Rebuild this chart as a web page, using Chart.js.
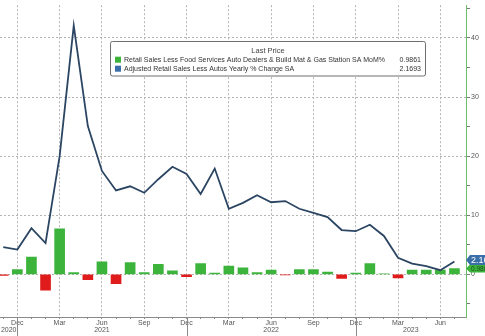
<!DOCTYPE html>
<html>
<head>
<meta charset="utf-8">
<script src="https://cdn.jsdelivr.net/npm/chart.js@4.4.0/dist/chart.umd.min.js"></script>
<style>
  html, body { margin: 0; padding: 0; background: #fff; }
  #wrap { width: 485px; height: 336px; position: relative; }
</style>
</head>
<body>
<div id="wrap"><canvas id="retailChart"></canvas></div>
<script>
'use strict';

// Monthly observations, Nov 2020 .. Jul 2023
const MONTHS = [
  'Nov', 'Dec',
  'Jan', 'Feb', 'Mar', 'Apr', 'May', 'Jun', 'Jul', 'Aug', 'Sep', 'Oct', 'Nov', 'Dec',
  'Jan', 'Feb', 'Mar', 'Apr', 'May', 'Jun', 'Jul', 'Aug', 'Sep', 'Oct', 'Nov', 'Dec',
  'Jan', 'Feb', 'Mar', 'Apr', 'May', 'Jun', 'Jul',
];
const YEARS = [
  2020, 2020,
  2021, 2021, 2021, 2021, 2021, 2021, 2021, 2021, 2021, 2021, 2021, 2021,
  2022, 2022, 2022, 2022, 2022, 2022, 2022, 2022, 2022, 2022, 2022, 2022,
  2023, 2023, 2023, 2023, 2023, 2023, 2023,
];

// Control group MoM % (bars)
const CONTROL_MOM = [
  -0.2, 0.8,
  2.9, -2.7, 7.7, 0.3, -0.9, 2.1, -1.6, 2.0, 0.3, 1.7, 0.6, -0.4,
  1.8, 0.2, 1.4, 1.1, 0.3, 0.7, -0.1, 0.8, 0.8, 0.4, -0.7, 0.2,
  1.8, 0.1, -0.6, 0.7, 0.7, 0.7, 0.9861,
];

// Adjusted retail sales less autos, YoY % (line)
const ADJ_YOY = [
  4.6, 4.2,
  7.8, 5.3, 20.0, 42.1, 25.1, 17.5, 14.2, 14.9, 13.8, 16.1, 18.2, 17.0,
  13.6, 17.9, 11.1, 12.1, 13.4, 12.2, 12.4, 11.1, 10.4, 9.7, 7.5, 7.3,
  8.4, 6.5, 2.8, 1.8, 1.4, 0.7, 2.1693,
];

const Y_LABELS = [0, 10, 20, 30, 40];
const QUARTER_MONTHS = ['Dec', 'Mar', 'Jun', 'Sep'];

const SERIES_NAMES = [
  'Retail Sales Less Food Services Auto Dealers & Build Mat & Gas Station SA MoM%',
  'Adjusted Retail Sales Less Autos Yearly % Change SA',
];

const COLORS = {
  up:     '#3cb43c',
  down:   '#e01b1b',
  line:   '#2b4563',
  tag:    '#3a6ea8',
  grid:   '#b4b4b4',
  axisY:  '#6cbc6c',
  axisX:  '#8a8a8a',
  text:   '#555555',
};

const FONT = "'Liberation Sans', Arial, sans-serif";

const isQuarter = i => QUARTER_MONTHS.includes(MONTHS[i]);

// year row under the month labels, split at each December
const yearAxisPlugin = {
  id: 'yearAxis',
  afterDraw(chart) {
    const { ctx, scales: { x }, chartArea } = chart;
    const bottom = chart.height;
    const breaks = MONTHS.map((m, i) => i).filter(i => MONTHS[i] === 'Dec');
    ctx.save();
    ctx.strokeStyle = COLORS.axisX;
    ctx.lineWidth = 1;
    breaks.forEach(i => {
      const px = Math.round(x.getPixelForValue(i)) + 0.5;
      ctx.beginPath();
      ctx.moveTo(px, chartArea.bottom);
      ctx.lineTo(px, bottom);
      ctx.stroke();
    });

    ctx.font = `7px ${FONT}`;
    ctx.fillStyle = COLORS.text;
    ctx.textBaseline = 'middle';
    ctx.textAlign = 'center';
    const edges = [x.min, ...breaks, x.max];
    for (let k = 0; k < edges.length - 1; k++) {
      const a = x.getPixelForValue(edges[k]);
      const b = x.getPixelForValue(edges[k + 1]);
      const year = String(k === 0 ? YEARS[0] : YEARS[Math.min(breaks[k - 1] + 1, YEARS.length - 1)]);
      const w = ctx.measureText(year).width;
      let cx = (a + b) / 2;
      // partial first year: sit just left of its separator, cut by the edge
      if (w > b - a) cx = b - 7 - w / 2;
      ctx.fillText(year, cx, 330);
    }
    ctx.restore();
  },
};

// "Last Price" box with series names and latest values
const legendBoxPlugin = {
  id: 'legendBox',
  afterDraw(chart) {
    const { ctx } = chart;
    const bx = 110.5, by = 41.5, bw = 315, bh = 34.5;
    ctx.save();
    ctx.fillStyle = '#ffffff';
    ctx.strokeStyle = '#6e6e6e';
    ctx.lineWidth = 1;
    ctx.beginPath();
    if (ctx.roundRect) ctx.roundRect(bx, by, bw, bh, 2); else ctx.rect(bx, by, bw, bh);
    ctx.fill();
    ctx.stroke();

    ctx.fillStyle = '#444';
    ctx.font = `7.5px ${FONT}`;
    ctx.textBaseline = 'middle';
    ctx.textAlign = 'center';
    ctx.fillText('Last Price', bx + bw / 2, 50.5);

    ctx.font = `7px ${FONT}`;
    const rows = [
      { color: COLORS.up, name: SERIES_NAMES[0], value: CONTROL_MOM[CONTROL_MOM.length - 1] },
      { color: COLORS.tag, name: SERIES_NAMES[1], value: ADJ_YOY[ADJ_YOY.length - 1] },
    ];
    rows.forEach((r, i) => {
      const ry = 59.7 + i * 9;
      ctx.fillStyle = r.color;
      ctx.fillRect(115, ry - 3, 6, 6);
      ctx.fillStyle = '#333';
      ctx.textAlign = 'left';
      ctx.fillText(r.name, 124, ry);
      ctx.textAlign = 'right';
      ctx.fillText(r.value.toFixed(4), 421, ry);
    });
    ctx.restore();
  },
};

// value tags on the right axis for the last point of each series
const lastValueTagPlugin = {
  id: 'lastValueTags',
  afterDraw(chart) {
    const { ctx, scales: { y }, chartArea } = chart;
    const x0 = chartArea.right;
    const tags = [
      { value: CONTROL_MOM[CONTROL_MOM.length - 1], fill: COLORS.up, text: '#1d4d1d', size: 6.5, h: 8, shift: 0 },
      { value: ADJ_YOY[ADJ_YOY.length - 1], fill: COLORS.tag, text: '#ffffff', size: 9, h: 10, shift: -1.5 },
    ];
    ctx.save();
    tags.forEach(t => {
      const cy = y.getPixelForValue(t.value) + t.shift;
      ctx.fillStyle = t.fill;
      ctx.beginPath();
      ctx.moveTo(x0, cy);
      ctx.lineTo(x0 + 4, cy - t.h / 2);
      ctx.lineTo(chart.width + 2, cy - t.h / 2);
      ctx.lineTo(chart.width + 2, cy + t.h / 2);
      ctx.lineTo(x0 + 4, cy + t.h / 2);
      ctx.closePath();
      ctx.fill();
      ctx.fillStyle = t.text;
      ctx.font = `${t.size}px ${FONT}`;
      ctx.textAlign = 'left';
      ctx.textBaseline = 'middle';
      ctx.fillText(t.value.toFixed(4), x0 + 5, cy + 0.5);
    });
    ctx.restore();
  },
};

const ctx = document.getElementById('retailChart');

new Chart(ctx, {
  type: 'bar',
  data: {
    datasets: [
      {
        type: 'line',
        label: SERIES_NAMES[1],
        data: ADJ_YOY.map((v, i) => ({ x: i, y: v })),
        borderColor: COLORS.line,
        borderWidth: 1.8,
        pointRadius: 0,
        tension: 0,
        order: 0,
      },
      {
        type: 'bar',
        label: SERIES_NAMES[0],
        data: CONTROL_MOM.map((v, i) => ({ x: i, y: v })),
        backgroundColor: c => (c.parsed && c.parsed.y < 0 ? COLORS.down : COLORS.up),
        barThickness: 10,
        order: 1,
      },
    ],
  },
  options: {
    responsive: true,
    maintainAspectRatio: false,
    animation: false,
    devicePixelRatio: 1,
    layout: { padding: 0 },
    plugins: {
      legend: { display: false },
      tooltip: { enabled: false },
    },
    scales: {
      x: {
        type: 'linear',
        min: -0.23,
        max: 32.82,
        offset: false,
        afterFit(scale) { scale.height = 19; },
        ticks: {
          stepSize: 1,
          autoSkip: false,
          includeBounds: false,
          maxRotation: 0,
          padding: 0,
          color: COLORS.text,
          font: { family: FONT, size: 7 },
          callback: v => (Number.isInteger(v) && isQuarter(v) ? MONTHS[v] : ''),
        },
        grid: {
          offset: false,
          color: c => (c.tick && isQuarter(c.tick.value) ? COLORS.grid : 'rgba(0,0,0,0)'),
          tickColor: COLORS.axisX,
          tickLength: 2,
          lineWidth: 1,
        },
        border: { color: COLORS.axisX, width: 1, dash: [2, 2] },
      },
      y: {
        position: 'right',
        min: -7.22,
        max: 45.55,
        afterFit(scale) { scale.width = 19; },
        ticks: {
          stepSize: 5,
          includeBounds: false,
          padding: 1,
          color: COLORS.text,
          font: { family: FONT, size: 7 },
          callback: v => (Y_LABELS.includes(v) ? String(v) : ''),
        },
        grid: {
          color: c => (c.tick && Y_LABELS.includes(c.tick.value) ? COLORS.grid : 'rgba(0,0,0,0)'),
          tickColor: '#7a7a7a',
          tickLength: 4,
          lineWidth: 1,
        },
        border: { color: COLORS.axisY, width: 1, dash: [2, 2] },
      },
    },
  },
  plugins: [yearAxisPlugin, legendBoxPlugin, lastValueTagPlugin],
});
</script>
</body>
</html>
